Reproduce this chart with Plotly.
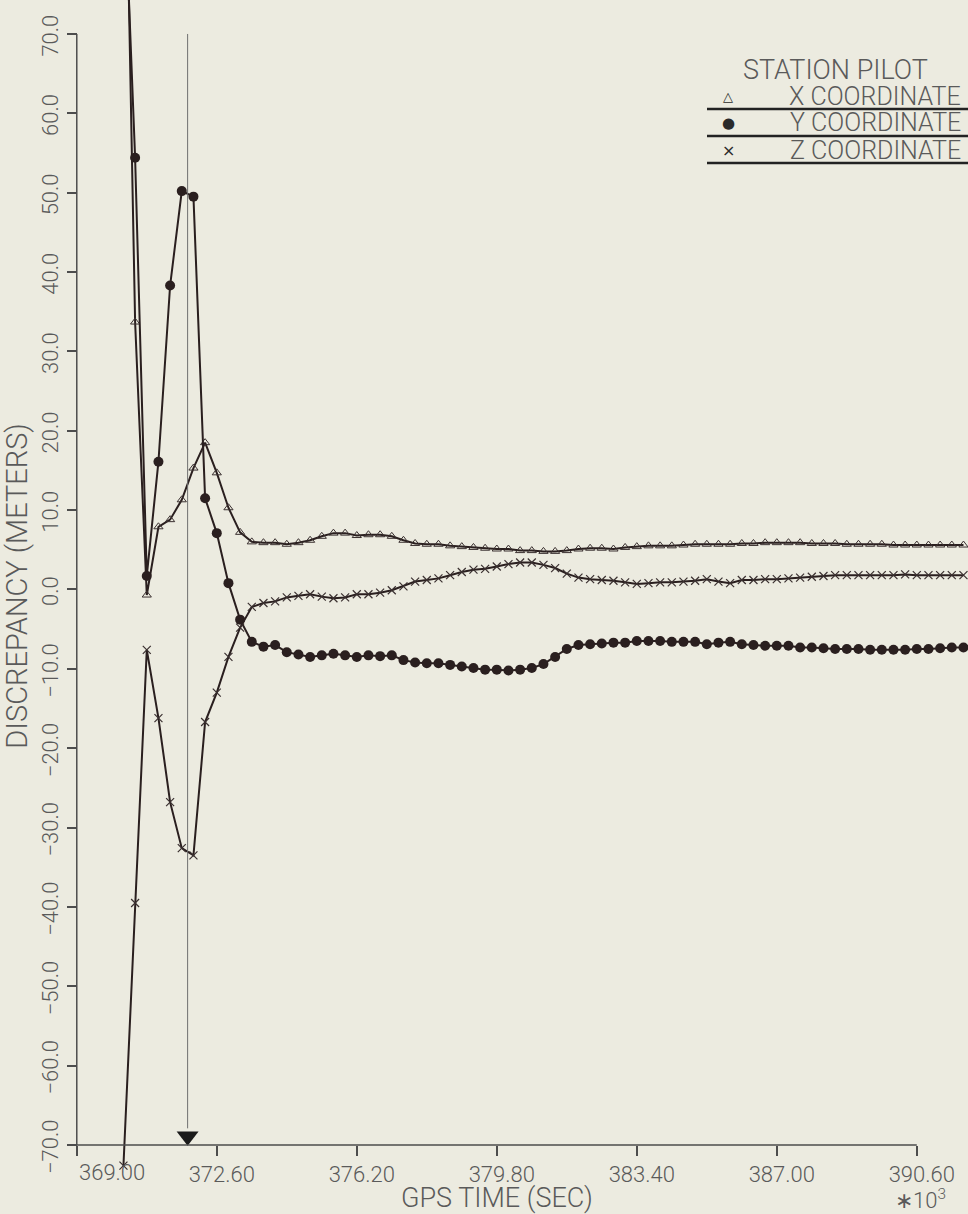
import plotly.graph_objects as go

# ---------------- data ----------------
gps_time = [370.2, 370.5, 370.8, 371.1, 371.4, 371.7, 372.0, 372.3, 372.6, 372.9,
            373.2, 373.5, 373.8, 374.1, 374.4, 374.7, 375.0, 375.3, 375.6, 375.9,
            376.2, 376.5, 376.8, 377.1, 377.4, 377.7, 378.0, 378.3, 378.6, 378.9,
            379.2, 379.5, 379.8, 380.1, 380.4, 380.7, 381.0, 381.3, 381.6, 381.9,
            382.2, 382.5, 382.8, 383.1, 383.4, 383.7, 384.0, 384.3, 384.6, 384.9,
            385.2, 385.5, 385.8, 386.1, 386.4, 386.7, 387.0, 387.3, 387.6, 387.9,
            388.2, 388.5, 388.8, 389.1, 389.4, 389.7, 390.0, 390.3, 390.6, 390.9,
            391.2, 391.5, 391.8]

x_coordinate = [110.0, 33.7, -0.7, 7.9, 8.8, 11.3, 15.3, 18.5, 14.7, 10.3,
                7.2, 6.0, 5.9, 5.9, 5.7, 5.9, 6.2, 6.7, 7.1, 7.1,
                6.8, 6.9, 6.9, 6.7, 6.2, 5.8, 5.7, 5.7, 5.5, 5.4,
                5.3, 5.2, 5.1, 5.1, 4.9, 4.9, 4.8, 4.8, 4.9, 5.1,
                5.2, 5.2, 5.1, 5.3, 5.4, 5.5, 5.5, 5.5, 5.6, 5.7,
                5.7, 5.7, 5.7, 5.8, 5.8, 5.9, 5.9, 5.9, 5.9, 5.8,
                5.8, 5.8, 5.7, 5.7, 5.7, 5.7, 5.6, 5.6, 5.6, 5.6,
                5.6, 5.6, 5.6]

y_coordinate = [92.0, 54.4, 1.7, 16.1, 38.3, 50.2, 49.5, 11.5, 7.1, 0.8,
                -3.8, -6.6, -7.2, -7.0, -7.9, -8.2, -8.5, -8.3, -8.1, -8.3,
                -8.5, -8.3, -8.4, -8.3, -8.9, -9.2, -9.3, -9.3, -9.5, -9.7,
                -9.9, -10.1, -10.1, -10.2, -10.1, -9.9, -9.4, -8.5, -7.5, -7.0,
                -6.9, -6.8, -6.7, -6.7, -6.5, -6.5, -6.5, -6.6, -6.6, -6.6,
                -6.9, -6.7, -6.6, -6.9, -7.0, -7.1, -7.1, -7.1, -7.3, -7.3,
                -7.4, -7.5, -7.5, -7.5, -7.6, -7.6, -7.6, -7.6, -7.5, -7.5,
                -7.4, -7.3, -7.3]

z_coordinate = [-72.6, -39.5, -7.6, -16.2, -26.8, -32.6, -33.5, -16.7, -13.0, -8.5,
                -4.8, -2.2, -1.7, -1.5, -1.0, -0.8, -0.6, -0.9, -1.1, -1.0,
                -0.6, -0.6, -0.4, -0.1, 0.4, 1.0, 1.2, 1.4, 1.8, 2.2,
                2.5, 2.6, 2.9, 3.2, 3.4, 3.4, 3.1, 2.7, 2.0, 1.5,
                1.3, 1.2, 1.1, 0.9, 0.7, 0.8, 0.9, 0.9, 1.0, 1.1,
                1.3, 1.0, 0.8, 1.2, 1.2, 1.3, 1.3, 1.4, 1.5, 1.6,
                1.7, 1.8, 1.8, 1.8, 1.8, 1.8, 1.8, 1.9, 1.8, 1.8,
                1.8, 1.8, 1.8]

event_time = 371.85
event_marker_level = -68.9

x_tick_values = [369.0, 372.6, 376.2, 379.8, 383.4, 387.0, 390.6]
x_tick_labels = ["369.00", "372.60", "376.20", "379.80", "383.40", "387.00", "390.60"]
y_tick_values = [-70, -60, -50, -40, -30, -20, -10, 0, 10, 20, 30, 40, 50, 60, 70]
y_tick_labels = ["\u221270.0", "\u221260.0", "\u221250.0", "\u221240.0", "\u221230.0",
                 "\u221220.0", "\u221210.0", "0.0", "10.0", "20.0", "30.0", "40.0",
                 "50.0", "60.0", "70.0"]

legend_title = "STATION PILOT"
legend_labels = ["X COORDINATE", "Y COORDINATE", "Z COORDINATE"]
legend_symbols = ["\u25b3", "\u25cf", "\u00d7"]

# ---------------- layout geometry ----------------
W, H = 968, 1214
ML, MR, MT, MB = 69, 0, 0, 42
PX_PER_T = 38.89
PX_PER_V = 7.936
PW, PH = W - ML - MR, H - MT - MB
X0 = 368.8
X1 = X0 + PW / PX_PER_T
YTOP = 74.28
YBOT = YTOP - PH / PX_PER_V

BG = "#ecebe0"
INK = "#2a1f1f"
AXC = "#4d4d4d"
TXT = "#5a5a5a"
FONT = "Roboto"


def px(xp):
    return (xp - ML) / PW


def py(yp):
    return 1 - (yp - MT) / PH


fig = go.Figure()

fig.add_trace(go.Scatter(
    x=gps_time, y=x_coordinate, mode="lines+markers",
    line=dict(color=INK, width=2),
    marker=dict(symbol="triangle-up-open", size=8, color="#3a3030", line=dict(width=1)),
    showlegend=False, hoverinfo="skip"))
fig.add_trace(go.Scatter(
    x=gps_time, y=y_coordinate, mode="lines+markers",
    line=dict(color=INK, width=2),
    marker=dict(symbol="circle", size=10, color=INK),
    showlegend=False, hoverinfo="skip"))
fig.add_trace(go.Scatter(
    x=gps_time, y=z_coordinate, mode="lines+markers",
    line=dict(color=INK, width=2),
    marker=dict(symbol="x-thin-open", size=8, color="#3a3030", line=dict(width=1.2)),
    showlegend=False, hoverinfo="skip"))

# event marker triangle
fig.add_trace(go.Scatter(
    x=[event_time], y=[event_marker_level], mode="markers",
    marker=dict(symbol="triangle-down", size=19, color="#1a1a1a"),
    showlegend=False, hoverinfo="skip"))

shapes = [
    dict(type="line", xref="x", yref="y", x0=x_tick_values[0], x1=x_tick_values[-1],
         y0=y_tick_values[0], y1=y_tick_values[0], line=dict(color=AXC, width=1.5)),
    dict(type="line", xref="x", yref="y", x0=x_tick_values[0], x1=x_tick_values[0],
         y0=y_tick_values[0], y1=y_tick_values[-1], line=dict(color=AXC, width=1.5)),
    dict(type="line", xref="x", yref="y", x0=event_time, x1=event_time,
         y0=event_marker_level + 1, y1=y_tick_values[-1], line=dict(color="#707070", width=1)),
]

annotations = []
annotations.append(dict(xref="x", yref="y", x=x_tick_values[0], y=y_tick_values[0],
                        text=x_tick_labels[0], showarrow=False, xanchor="left", yanchor="top",
                        yshift=-13, font=dict(family=FONT, size=22, color=TXT, weight=300)))
annotations.append(dict(xref="x", yref="y", x=379.8, y=y_tick_values[0],
                        text="GPS TIME (SEC)", showarrow=False, xanchor="center", yanchor="middle",
                        yshift=-53, font=dict(family=FONT, size=27, color=TXT, weight=300)))
annotations.append(dict(xref="x", yref="y", x=390.7, y=y_tick_values[0],
                        text="\u221710<sup>3</sup>", showarrow=False, xanchor="center", yanchor="middle",
                        yshift=-54, font=dict(family=FONT, size=22, color=TXT, weight=300)))

annotations.append(dict(xref="paper", yref="paper", x=px(835), y=py(70), text=legend_title,
                        showarrow=False, xanchor="center", yanchor="middle",
                        font=dict(family=FONT, size=27, color=TXT, weight=300)))
rows_y = [97, 123, 150]
under_y = [109, 136, 163]
sym_sizes = [13, 15, 16]
for lab, sym, ry, uy, ss in zip(legend_labels, legend_symbols, rows_y, under_y, sym_sizes):
    annotations.append(dict(xref="paper", yref="paper", x=px(728), y=py(ry), text=sym,
                            showarrow=False, xanchor="center", yanchor="middle",
                            font=dict(family="DejaVu Sans", size=ss, color="#2a2a2a")))
    annotations.append(dict(xref="paper", yref="paper", x=px(963), y=py(ry), text=lab,
                            showarrow=False, xanchor="right", yanchor="middle",
                            font=dict(family=FONT, size=25, color=TXT, weight=300)))
    shapes.append(dict(type="line", xref="paper", yref="paper", x0=px(707), x1=1.0,
                       y0=py(uy), y1=py(uy), line=dict(color="#222222", width=2.5)))

fig.update_layout(
    width=W, height=H,
    margin=dict(l=ML, r=MR, t=MT, b=MB, pad=0),
    paper_bgcolor=BG, plot_bgcolor=BG,
    showlegend=False,
    shapes=shapes, annotations=annotations,
    xaxis=dict(range=[X0, X1], anchor="free",
               position=(y_tick_values[0] - YBOT) / (YTOP - YBOT),
               tickvals=x_tick_values, ticktext=[" "] + x_tick_labels[1:],
               ticks="outside", ticklen=10, tickwidth=1.5, tickcolor=AXC,
               showline=False, showgrid=False, zeroline=False,
               ticklabelshift=5,
               tickfont=dict(family=FONT, size=22, color=TXT, weight=300)),
    yaxis=dict(range=[YBOT, YTOP], anchor="free",
               position=(x_tick_values[0] - X0) / (X1 - X0),
               tickvals=y_tick_values, ticktext=y_tick_labels,
               ticks="outside", ticklen=10, tickwidth=1.5, tickcolor=AXC,
               showline=False, showgrid=False, zeroline=False,
               tickangle=-90, ticklabelshift=5,
               tickfont=dict(family=FONT, size=22, color=TXT, weight=300),
               title=dict(text="DISCREPANCY (METERS)", standoff=6,
                          font=dict(family=FONT, size=29, color=TXT, weight=300))),
)

fig.write_html(
    "out.html",
    config={"displayModeBar": False},
    post_script="document.body.style.margin='0';document.body.style.overflow='hidden';"
                "document.body.style.background='" + BG + "';",
)
